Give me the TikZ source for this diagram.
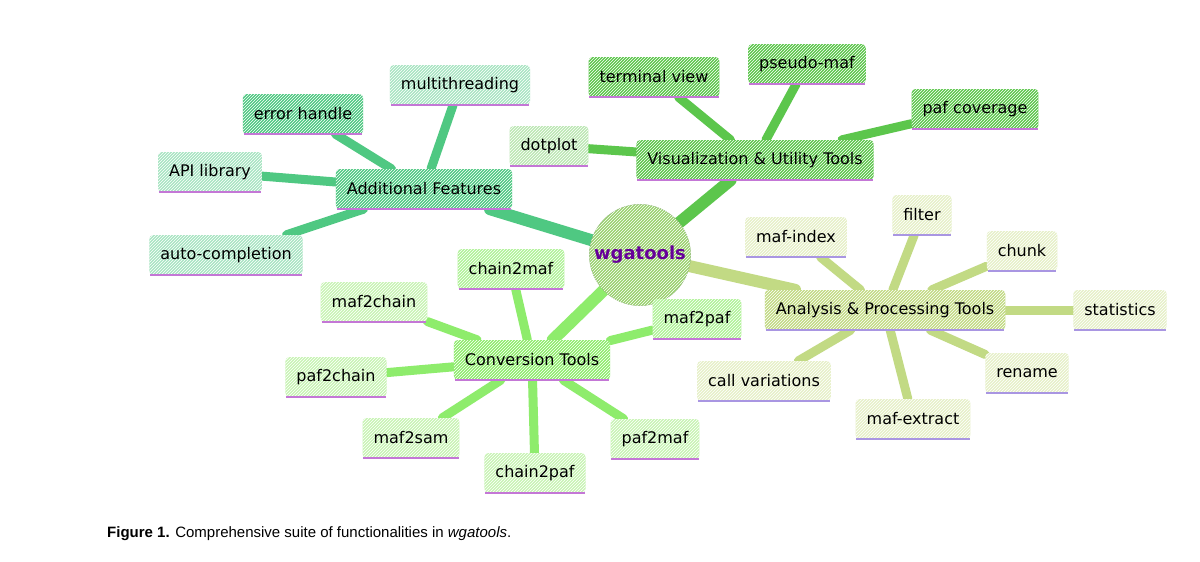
\documentclass[tikz,border=0pt]{standalone}
\usepackage{fontspec}
\setmainfont{DejaVu Sans}
\newfontfamily\capfont{Liberation Sans}
\usetikzlibrary{patterns,backgrounds}
\definecolor{cA}{HTML}{4FC882}\definecolor{cAl}{HTML}{A8E4C2}
\definecolor{cV}{HTML}{5CC64C}\definecolor{cVl}{HTML}{8FD880}
\definecolor{cN}{HTML}{C2DA84}\definecolor{cNl}{HTML}{E6F0C8}
\definecolor{cC}{HTML}{8EEC6C}\definecolor{cCl}{HTML}{C8F4B4}
\definecolor{ulp}{HTML}{C477D6}\definecolor{ull}{HTML}{A996E2}
\tikzset{
 bx/.style={rounded corners=4pt, minimum height=40pt, inner xsep=11pt, font=\fontsize{16}{19}\selectfont, text=black},
 hatch/.style={postaction={pattern=north east lines, pattern color=white}},
 edge/.style={line width=#1, line cap=round},
}
\begin{document}
\begin{tikzpicture}[x=1pt,y=-1pt]
\useasboundingbox (0,0) rectangle (1200,562);
% center
\node[circle, minimum size=90pt, fill=cN!60!cV, draw=cN!50!cV!80!black!80, hatch, font=\fontsize{18}{20}\selectfont\bfseries, text=violet!80!blue] (wg) at (640,255) {wgatools};
% Additional
\node[bx, fill=cA, hatch] (af) at (424,189) {Additional Features};
\node[bx, fill=cAl, hatch] (api) at (210,172) {API library};
\node[bx, fill=cA, hatch] (eh) at (303,114) {error handle};
\node[bx, fill=cAl, hatch] (mt) at (460,85) {multithreading};
\node[bx, fill=cAl, hatch] (ac) at (226,255) {auto-completion};
% Visualization
\node[bx, fill=cV, hatch] (vu) at (755,160) {Visualization \& Utility Tools};
\node[bx, fill=cVl!60, hatch] (dp) at (549,146) {dotplot};
\node[bx, fill=cV, hatch] (tv) at (654,77) {terminal view};
\node[bx, fill=cV, hatch] (pm) at (807,64) {pseudo-maf};
\node[bx, fill=cV, hatch] (pc) at (975,109) {paf coverage};
% Analysis
\node[bx, fill=cN, hatch] (ap) at (885,310) {Analysis \& Processing Tools};
\node[bx, fill=cNl, hatch] (mi) at (796,237) {maf-index};
\node[bx, fill=cNl, hatch] (fi) at (922,215) {filter};
\node[bx, fill=cNl, hatch] (ch) at (1022,251) {chunk};
\node[bx, fill=cNl, hatch] (st) at (1120,310) {statistics};
\node[bx, fill=cNl, hatch] (rn) at (1027,373) {rename};
\node[bx, fill=cNl, hatch] (me) at (913,419) {maf-extract};
\node[bx, fill=cNl, hatch] (cv) at (764,381) {call variations};
% Conversion
\node[bx, fill=cC, hatch] (ct) at (532,360) {Conversion Tools};
\node[bx, fill=cC!70, hatch] (c2m) at (511,269) {chain2maf};
\node[bx, fill=cCl, hatch] (m2c) at (374,302) {maf2chain};
\node[bx, fill=cC!70, hatch] (m2p) at (697,319) {maf2paf};
\node[bx, fill=cCl, hatch] (p2c) at (336,377) {paf2chain};
\node[bx, fill=cCl, hatch] (m2s) at (411,438) {maf2sam};
\node[bx, fill=cCl, hatch] (c2p) at (535,473) {chain2paf};
\node[bx, fill=cCl, hatch] (p2m) at (655,439) {paf2maf};
\begin{scope}[on background layer]
\fill[white] (0,0) rectangle (1200,562);
\draw[edge=12pt, cA] (wg) -- (af);
\foreach \n in {api,eh,mt,ac} \draw[edge=9pt, cA] (af) -- (\n);
\draw[edge=12pt, cV] (wg) -- (vu);
\foreach \n in {dp,tv,pm,pc} \draw[edge=9pt, cV] (vu) -- (\n);
\draw[edge=12pt, cN] (wg) -- (ap);
\foreach \n in {mi,fi,ch,st,rn,me,cv} \draw[edge=9pt, cN] (ap) -- (\n);
\draw[edge=12pt, cC] (wg) -- (ct);
\foreach \n in {c2m,m2c,m2p,p2c,m2s,c2p,p2m} \draw[edge=9pt, cC] (ct) -- (\n);
\end{scope}
\foreach \n in {af,api,eh,mt,ac,vu,dp,tv,pm,pc,ct,c2m,m2c,m2p,p2c,m2s,c2p,p2m}
  \draw[ulp, line width=2.5pt] ([xshift=1pt]\n.south west) -- ([xshift=-1pt]\n.south east);
\foreach \n in {ap,mi,fi,ch,st,rn,me,cv}
  \draw[ull, line width=2.5pt] ([xshift=1pt]\n.south west) -- ([xshift=-1pt]\n.south east);
\node[anchor=west, font=\capfont\fontsize{15}{18}\selectfont, inner sep=0pt] (cap) at (107,534) {\textbf{Figure 1.} Comprehensive suite of functionalities in \textit{wgatools}.};
\end{tikzpicture}
\end{document}
